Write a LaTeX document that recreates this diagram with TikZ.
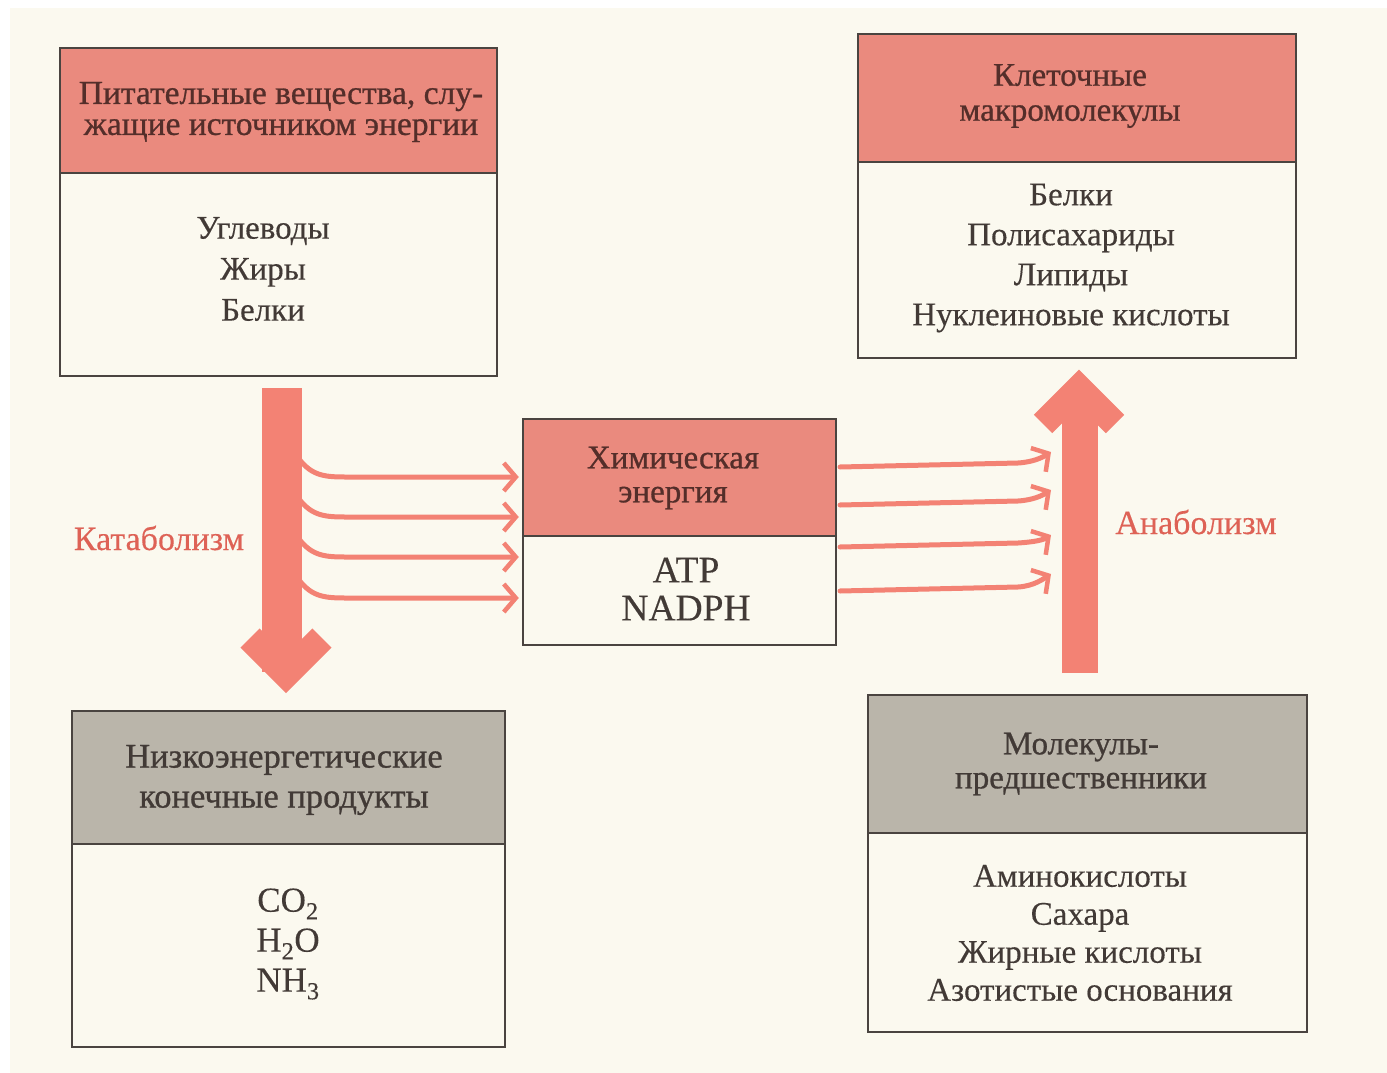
\documentclass[tikz,border=0pt]{standalone}
\usepackage{fontspec}
\setmainfont{Liberation Serif}[FakeBold=0.3]
\newfontfamily\hdrfont{Liberation Serif}[FakeBold=0.8]
\usetikzlibrary{arrows.meta}
\definecolor{paper}{RGB}{251,249,239}
\definecolor{hdrred}{RGB}{234,138,126}
\definecolor{hdrgray}{RGB}{186,181,170}
\definecolor{arrred}{RGB}{243,130,116}
\definecolor{lblred}{RGB}{222,98,86}
\definecolor{ink}{RGB}{66,58,54}
\definecolor{redink}{RGB}{84,46,42}
\definecolor{frame}{RGB}{74,68,64}
\tikzset{
  boxpart/.style={draw=frame, line width=2.5pt, inner sep=0pt},
  redhead/.style={boxpart, fill=hdrred},
  grayhead/.style={boxpart, fill=hdrgray},
  bodypart/.style={boxpart, fill=paper},
  htext/.style={text=redink, align=center, inner sep=0pt},
  ghtext/.style={text=ink, align=center, inner sep=0pt},
  btext/.style={text=ink, align=center, inner sep=0pt},
  thinarrow/.style={draw=arrred, line width=5pt, line cap=round,
    -{Straight Barb[length=12pt,width=28pt,line width=4.5pt]}},
  bigshaft/.style={draw=arrred, line width=40pt},
  bighead/.style={draw=arrred, line width=27pt, line join=miter},
  proclabel/.style={text=lblred, inner sep=0pt, font=\fontsize{34}{38}\selectfont}
}
\begin{document}
\begin{tikzpicture}[x=1pt,y=-1pt]
\useasboundingbox (0,0) rectangle (1387,1073);
\fill[white] (0,0) rectangle (1387,1073);
\fill[paper] (10,8) rectangle (1387,1073);

% ---- box 1: nutrients
\node[bodypart, minimum width=437pt, minimum height=203pt] (b1) at (278.5,274.5) {};
\node[redhead, minimum width=437pt, minimum height=125pt] (h1) at (278.5,110.5) {};
\node[htext, font=\hdrfont\fontsize{33.5}{31}\selectfont] (h1t) at (281,112)
  {Питательные вещества, слу-\\жащие источником энергии};
\node[btext, font=\fontsize{33}{41}\selectfont] (b1t) at (263,269)
  {Углеводы\\Жиры\\Белки};

% ---- box 2: macromolecules
\node[bodypart, minimum width=438pt, minimum height=196pt] (b2) at (1077,260) {};
\node[redhead, minimum width=438pt, minimum height=128pt] (h2) at (1077,98) {};
\node[htext, font=\hdrfont\fontsize{33}{35}\selectfont] (h2t) at (1070,96)
  {Клеточные\\макромолекулы};
\node[btext, font=\fontsize{33}{40}\selectfont] (b2t) at (1071,258)
  {Белки\\Полисахариды\\Липиды\\Нуклеиновые кислоты};

% ---- middle box: chemical energy
\node[bodypart, minimum width=313pt, minimum height=109pt] (bm) at (679.5,590.5) {};
\node[redhead, minimum width=313pt, minimum height=117pt] (hm) at (679.5,477.5) {};
\node[htext, font=\hdrfont\fontsize{33}{34}\selectfont] (hmt) at (673,478)
  {Химическая\\энергия};
\node[btext, font=\fontsize{37.5}{38}\selectfont] (bmt) at (686,589)
  {ATP\\NADPH};

% ---- bottom-left box: end products
\node[bodypart, minimum width=433pt, minimum height=203pt] (b3) at (288.5,945.5) {};
\node[grayhead, minimum width=433pt, minimum height=133pt] (h3) at (288.5,777.5) {};
\node[ghtext, font=\hdrfont\fontsize{34.5}{40}\selectfont] (h3t) at (284,780)
  {Низкоэнергетические\\конечные продукты};
\node[btext, font=\fontsize{35}{40}\selectfont] (b3t) at (288,944)
  {CO\textsubscript{2}\\H\textsubscript{2}O\\NH\textsubscript{3}};

% ---- bottom-right box: precursors
\node[bodypart, minimum width=439pt, minimum height=199pt] (b4) at (1087.5,932.5) {};
\node[grayhead, minimum width=439pt, minimum height=138pt] (h4) at (1087.5,764) {};
\node[ghtext, font=\hdrfont\fontsize{33}{34}\selectfont] (h4t) at (1081,764)
  {Молекулы-\\предшественники};
\node[btext, font=\fontsize{33}{38}\selectfont] (b4t) at (1080,933)
  {Аминокислоты\\Сахара\\Жирные кислоты\\Азотистые основания};

% ---- catabolism big arrow
\coordinate (catTop) at (282,388);
\coordinate (catBot) at (282,672);
\draw[bigshaft] (catTop) -- (catBot);
\draw[bighead] (250,638) -- (286,674) -- (322,638);
\node[proclabel] (catl) at (159,538) {Катаболизм};

% ---- anabolism big arrow
\coordinate (anaBot) at (1080,673);
\coordinate (anaTop) at (1080,392);
\draw[bigshaft, line width=36pt] (anaBot) -- (anaTop);
\draw[bighead, line width=26pt] (1043,424) -- (1079,388) -- (1115,424);
\node[proclabel] (anal) at (1196,522) {Анаболизм};

% ---- thin arrows catabolism -> chemical energy
\foreach \i/\y/\n in {1/477/hm,2/517/hm,3/557/bm,4/598/bm}{
  \coordinate (ls\i) at (296,\y-22);
  \coordinate (lh\i) at (345,\y);
  \draw[thinarrow, shorten >=3pt] (ls\i) .. controls (310,\y-2) and (322,\y) .. (lh\i) -- (\n.west |- lh\i);
}

% ---- thin arrows chemical energy -> anabolism
\foreach \i/\y/\e in {1/467/452,2/505/490,3/547/535,4/591/574}{
  \coordinate (rs\i) at (840,\y);
  \coordinate (rm\i) at (1018,\y-4);
  \coordinate (re\i) at (1051,\e);
  \draw[thinarrow] (rs\i) -- (rm\i) .. controls (1034,\y-5) and (1043,\e+5) .. (re\i);
}
\end{tikzpicture}
\end{document}
